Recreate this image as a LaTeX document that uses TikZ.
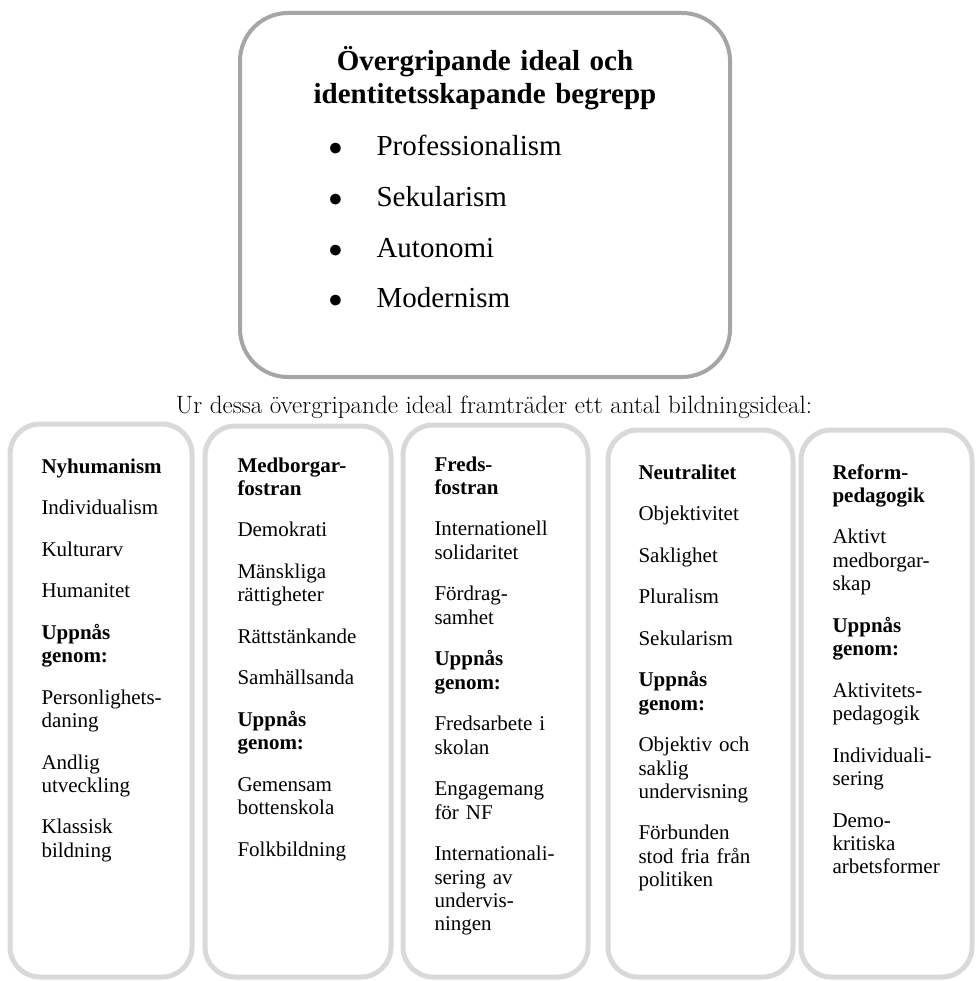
\documentclass[tikz,border=0pt]{standalone}
\usepackage{fontspec}
\newfontfamily\tnr{Liberation Serif}
\definecolor{framegray}{HTML}{A5A5A5}
\definecolor{boxgray}{HTML}{D9D9D9}

\tikzset{every picture/.style={line width=0.75pt}}
\tikzset{
  topframe/.style={draw=framegray, line width=3pt, rounded corners=36pt},
  idealframe/.style={draw=boxgray, line width=3.75pt, rounded corners=22.5pt},
  title/.style={anchor=base, inner sep=0pt, text width=337pt, align=center,
    font=\tnr\bfseries\fontsize{21.75}{24.75}\selectfont},
  bulletitem/.style={anchor=base west, inner sep=0pt,
    font=\tnr\fontsize{21.75}{26}\selectfont},
  intro/.style={anchor=base, inner sep=0pt, font=\fontsize{18.8}{22}\selectfont},
  ideal/.style={anchor=base west, inner sep=0pt, text width=115pt, align=left,
    font=\tnr\fontsize{15.75}{17.55}\selectfont,
    execute at begin node={\setlength{\parskip}{13.6pt}}},
}
\newcommand{\blt}{\makebox[36pt][l]{$\bullet$}}

\begin{document}
\begin{tikzpicture}[x=0.75pt,y=0.75pt,yscale=-1,xscale=1]
    \useasboundingbox (0,0) rectangle (975,981);

    %Rounded Rect [top]
    \draw [topframe] (240,13) rectangle (730,377);
    % Text Node
    \node [title] (overgr) at (485,70) {Övergripande ideal och\\identitetsskapande begrepp};
    % Text Node
    \node [bulletitem] (prof) at (328,155) {\blt Professionalism};
    % Text Node
    \node [bulletitem] (sekul) at (328,206) {\blt Sekularism};
    % Text Node
    \node [bulletitem] (auton) at (328,257) {\blt Autonomi};
    % Text Node
    \node [bulletitem] (modern) at (328,307) {\blt Modernism};

    % Text Node
    \node [intro] (ur) at (494,413) {Ur dessa övergripande ideal framträder ett antal bildningsideal:};

    %Rounded Rects [bildningsideal]
    \draw [idealframe] (10,424) rectangle (192,977);
    \draw [idealframe] (205,426) rectangle (391,977);
    \draw [idealframe] (403,425) rectangle (588,977);
    \draw [idealframe] (608,430) rectangle (793,977);
    \draw [idealframe] (801,430) rectangle (972,977);

    % Text Node
    \node [ideal] (nyhum) at (41,473) {{\bfseries Nyhumanism}\par
      Individualism\par Kulturarv\par Humanitet\par
      {\bfseries Uppnås\\genom:}\par
      Personlighets-\\daning\par Andlig\\utveckling\par Klassisk\\bildning};
    % Text Node
    \node [ideal] (medb) at (237,472) {{\bfseries Medborgar-\\fostran}\par
      Demokrati\par Mänskliga\\rättigheter\par Rättstänkande\par Samhällsanda\par
      {\bfseries Uppnås\\genom:}\par
      Gemensam\\bottenskola\par Folkbildning};
    % Text Node
    \node [ideal] (freds) at (434,471) {{\bfseries Freds-\\fostran}\par
      Internationell\\solidaritet\par Fördrag-\\samhet\par
      {\bfseries Uppnås\\genom:}\par
      Fredsarbete i\\skolan\par Engagemang\\för NF\par
      Internationali-\\sering av\\undervis-\\ningen};
    % Text Node
    \node [ideal] (neutr) at (638,479) {{\bfseries Neutralitet}\par
      Objektivitet\par Saklighet\par Pluralism\par Sekularism\par
      {\bfseries Uppnås\\genom:}\par
      Objektiv och\\saklig\\undervisning\par
      Förbunden\\stod fria från\\politiken};
    % Text Node
    \node [ideal] (reform) at (832,479) {{\bfseries Reform-\\pedagogik}\par
      Aktivt\\medborgar-\\skap\par
      {\bfseries Uppnås\\genom:}\par
      Aktivitets-\\pedagogik\par Individuali-\\sering\par
      Demo-\\kritiska\\arbetsformer};

\end{tikzpicture}
\end{document}
